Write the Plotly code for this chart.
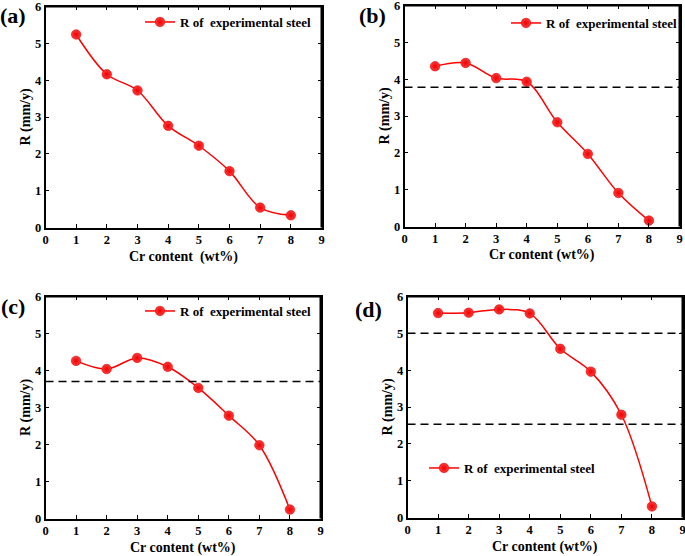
import plotly.graph_objects as go

cr = [1, 2, 3, 4, 5, 6, 7, 8]
r_a = [5.24, 4.16, 3.72, 2.76, 2.22, 1.53, 0.54, 0.33]
r_b = [4.35, 4.44, 4.03, 3.93, 2.83, 1.97, 0.91, 0.16]
r_c = [4.26, 4.04, 4.34, 4.10, 3.53, 2.78, 1.98, 0.24]
r_d = [5.55, 5.56, 5.65, 5.54, 4.58, 3.96, 2.79, 0.30]
dash_b = [3.78]
dash_c = [3.70]
dash_d = [5.0, 2.53]
panels = ["(a)", "(b)", "(c)", "(d)"]
legend_text = "R of  experimental steel"
x_title = ["Cr content  (wt%)", "Cr content (wt%)", "Cr content (wt%)", "Cr content (wt%)"]
y_title = "R (mm/y)"
x_ticks = list(range(0, 10))
y_ticks = list(range(0, 7))

W, H = 685, 556
FONT = "Liberation Serif"

# plot-area boxes in pixels: left, right, top, bottom
boxes = [(45.5, 321.5, 6.5, 227.5), (404.5, 679.5, 5.5, 226.5),
         (45.5, 320.5, 296.5, 518.5), (407.5, 682.5, 296.5, 517.5)]
legend_pos = [(317, 22), (683, 23), (317, 311), (601, 468)]
label_pos = [(13, 15), (372, 15), (13, 306), (368, 309)]

fig = go.Figure()
series = [r_a, r_b, r_c, r_d]
dashes = [[], dash_b, dash_c, dash_d]
for i in range(4):
    k = "" if i == 0 else str(i + 1)
    l, r, t, b = boxes[i]
    lg = "legend" if i == 0 else "legend%d" % (i + 1)
    fig.add_trace(go.Scatter(
        x=cr, y=series[i], mode="lines+markers", name=legend_text,
        xaxis="x" + k, yaxis="y" + k, legend=lg, cliponaxis=False,
        line=dict(color="#ff0000", width=1.5, shape="spline", smoothing=1.0),
        marker=dict(size=9.5, color="#ff3a3a", line=dict(color="#e00000", width=0.6),
                    gradient=dict(type="radial", color="#ee0000")),
    ))
    common = dict(showline=True, linecolor="black", linewidth=1.5, mirror="all",
                  ticks="inside", ticklen=4, tickwidth=1.3, tickcolor="black",
                  showgrid=False, zeroline=False, automargin=False, ticklabeloverflow="allow",
                  tickfont=dict(family=FONT, size=12.5, color="black", weight="bold"))
    fig.layout["xaxis" + k] = dict(domain=[l / W, r / W], range=[0, 9], tickvals=x_ticks,
                                   anchor="y" + k, **common)
    fig.layout["yaxis" + k] = dict(domain=[1 - b / H, 1 - t / H], range=[0, 6], tickvals=y_ticks,
                                   anchor="x" + k, **common)
    # frame: top and right edges (paper coordinates)
    fr = dict(color="black", width=2)
    fig.add_shape(type="line", xref="paper", yref="paper",
                  x0=l / W, x1=r / W, y0=1 - t / H, y1=1 - t / H, line=fr, layer="above")
    fig.add_shape(type="line", xref="paper", yref="paper",
                  x0=r / W, x1=r / W, y0=1 - b / H, y1=1 - t / H, line=fr, layer="above")
    lx, ly = legend_pos[i]
    fig.layout[lg] = dict(x=lx / W, y=1 - ly / H, xanchor="right", yanchor="middle",
                          bgcolor="rgba(0,0,0,0)",
                          font=dict(family=FONT, size=13, color="black", weight="bold"))
    for d in dashes[i]:
        fig.add_shape(type="line", xref="x%s domain" % k, yref="y" + k, x0=0, x1=1, y0=d, y1=d,
                      line=dict(color="black", width=1.5, dash="8px,5px"))
    # axis titles
    fig.add_annotation(x=(l + r) / 2 / W, y=1 - (b + 29) / H, xref="paper", yref="paper",
                       xanchor="center", yanchor="middle",
                       text=x_title[i], showarrow=False,
                       font=dict(family=FONT, size=14, color="black", weight="bold"))
    fig.add_annotation(x=(l - 20) / W, y=1 - (t + b) / 2 / H, xref="paper", yref="paper",
                       xanchor="center", yanchor="middle",
                       text=y_title, showarrow=False, textangle=-90,
                       font=dict(family=FONT, size=14, color="black", weight="bold"))
    px, py = label_pos[i]
    fig.add_annotation(x=px / W, y=1 - py / H, xref="paper", yref="paper",
                       xanchor="center", yanchor="middle",
                       text=panels[i], showarrow=False,
                       font=dict(family=FONT, size=22, color="black", weight="bold"))

fig.update_layout(width=W, height=H, margin=dict(l=0, r=0, t=0, b=0, autoexpand=False),
                  plot_bgcolor="white", paper_bgcolor="white", showlegend=True)
fig.write_html("out.html", config={"displayModeBar": False},
               post_script="document.body.style.margin='0';document.body.style.overflow='hidden';")
